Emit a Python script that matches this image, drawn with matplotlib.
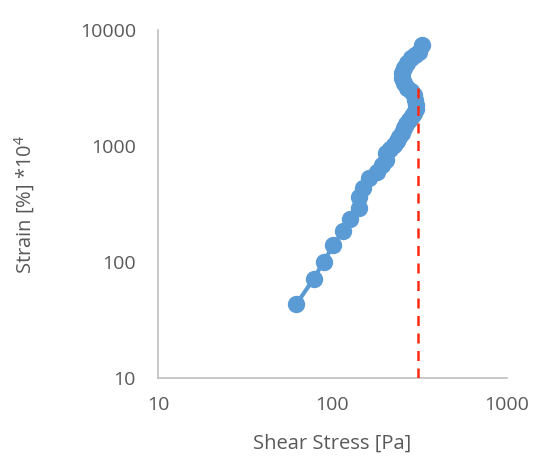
import matplotlib
matplotlib.use("Agg")
import matplotlib.pyplot as plt

# Data (Shear stress [Pa], Strain [%]*1e4)
stress = [62.2, 77.9, 88.9, 101.4, 115.6, 126.7, 142.6, 142.6, 150.4, 162.7, 180.7,
          192.0, 203.5, 203.5, 215.0, 226.0, 234.0, 241.5, 250.0, 257.8, 266.0, 275.4,
          285.0, 294.0, 300.0, 302.0, 298.0, 294.0, 282.0, 268.0, 258.0, 251.0, 252.0,
          257.8, 268.0, 282.7, 298.0, 314.0, 326.8]
strain = [43.5, 71.3, 100.0, 140.0, 185.0, 235.0, 292.0, 363.0, 434.0, 530.0, 597.0,
          680.0, 757.0, 871.0, 950.0, 1020.0, 1100.0, 1195.0, 1300.0, 1430.0, 1550.0, 1675.0,
          1800.0, 1925.0, 2080.0, 2257.0, 2500.0, 2753.0, 2950.0, 3162.0, 3500.0, 3856.0, 4250.0,
          4701.0, 5200.0, 5736.0, 6100.0, 6460.0, 7425.0]
limit_stress = 310.0
limit_strain_top = 3565.0

x_ticks = [10, 100, 1000]
y_ticks = [10, 100, 1000, 10000]
x_label = "Shear Stress [Pa]"
y_label = "Strain [%] *10$^{4}$"

plt.rcParams['font.family'] = ['Open Sans', 'DejaVu Sans']
plt.rcParams['mathtext.fontset'] = 'custom'
plt.rcParams['mathtext.rm'] = 'Open Sans'
plt.rcParams['mathtext.it'] = 'Open Sans'
fig = plt.figure(figsize=(5.34, 4.58), dpi=100)
ax = fig.add_axes([0.296, 0.1747, 0.653, 0.7598])
ax.set_xscale('log')
ax.set_yscale('log')
ax.set_xlim(10, 1000)
ax.set_ylim(10, 10000)

ax.plot(stress, strain, '-o', color='#5B9BD5', lw=3, ms=11.5, mec='#5B9BD5', mfc='#5B9BD5', zorder=3)
ax.plot([limit_stress, limit_stress], [10, limit_strain_top], '--', color='#FF2A10', lw=1.8,
        dashes=(4, 3), zorder=4)

ax.set_xticks(x_ticks)
ax.set_xticklabels([str(v) for v in x_ticks])
ax.set_yticks(y_ticks)
ax.set_yticklabels([str(v) for v in y_ticks])
ax.minorticks_off()
ax.tick_params(length=0, colors='#595959', labelsize=14)
ax.tick_params(axis='x', pad=13)
ax.tick_params(axis='y', pad=16)
for s in ['top', 'right']:
    ax.spines[s].set_visible(False)
for s in ['left', 'bottom']:
    ax.spines[s].set_color('#BFBFBF')
    ax.spines[s].set_linewidth(1.2)

ax.set_xlabel(x_label, color='#595959', fontsize=14.5, labelpad=14)
ax.set_ylabel(y_label, color='#595959', fontsize=14.5, labelpad=31)

fig.savefig('out.png', dpi=100)
